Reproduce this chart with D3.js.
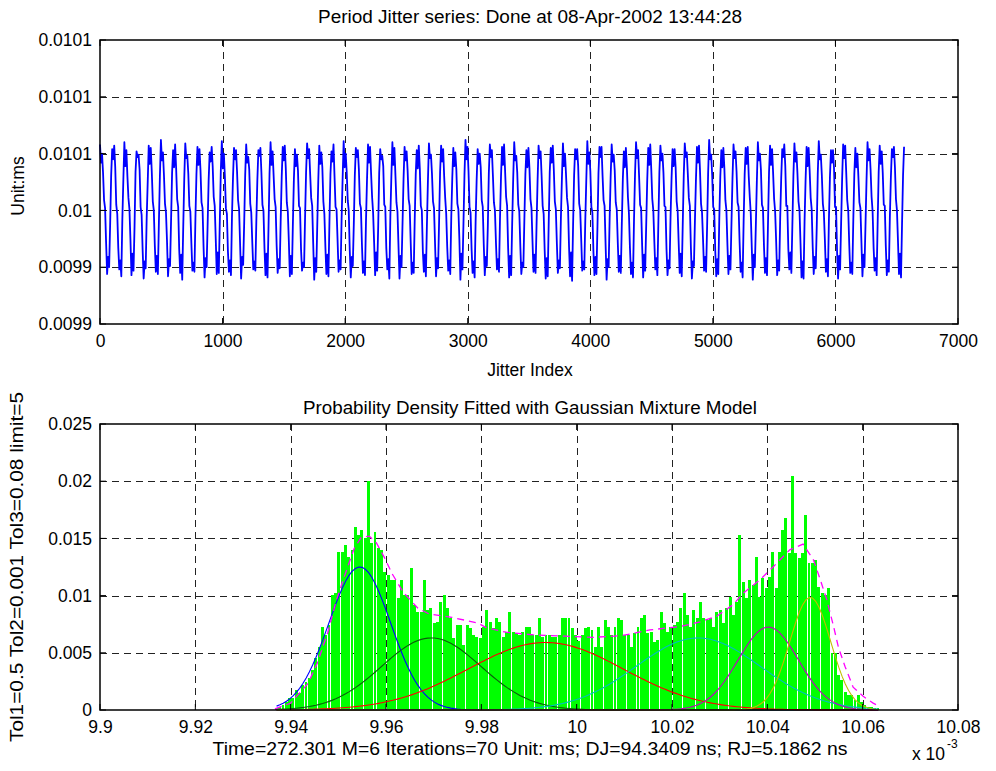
<!DOCTYPE html>
<html><head><meta charset="utf-8">
<script src="https://cdn.jsdelivr.net/npm/d3@7"></script>
<style>
body{margin:0;background:#fff;}
svg text{font-family:"Liberation Sans",Arial,Helvetica,sans-serif;fill:#000;}
</style></head><body>
<svg id="chart" width="996" height="771"></svg>
<script>
// ---------------- DATA ----------------
// Top: period jitter series, deviation from the 10000 ns nominal period (ns), 12 samples per cycle
const periodDevNs = [
58,42,50,33,9,2,-28,-56,-41,-50,-12,31, 54,45,57,38,5,-3,-33,-52,-44,-58,-8,27,
60,39,53,30,11,1,-26,-57,-38,-53,-15,34, 52,47,49,36,3,-4,-35,-60,-45,-51,-6,25,
57,41,55,34,8,0,-31,-54,-40,-56,-11,30, 62,44,51,31,6,-2,-27,-58,-43,-49,-9,33,
53,38,58,37,10,3,-34,-55,-39,-61,-14,28, 59,46,48,32,4,-1,-29,-53,-46,-54,-7,32,
56,40,54,35,7,2,-32,-59,-42,-50,-13,26, 51,43,56,39,12,4,-25,-56,-37,-55,-10,35,
61,37,50,30,2,-3,-36,-54,-44,-57,-5,29, 55,45,53,34,9,1,-30,-60,-41,-48,-12,31,
58,42,47,36,6,-2,-28,-52,-45,-53,-9,27, 53,48,55,33,5,0,-33,-57,-38,-59,-14,33,
60,40,52,31,10,3,-31,-55,-43,-51,-8,30, 56,44,57,37,7,-1,-27,-58,-40,-56,-11,28,
54,39,49,35,4,2,-34,-53,-46,-50,-6,34, 59,46,54,32,11,4,-29,-61,-42,-54,-13,26,
57,41,51,38,8,-3,-32,-56,-39,-58,-10,32, 52,43,58,30,3,1,-26,-54,-44,-52,-7,29,
61,38,50,34,9,0,-35,-59,-41,-49,-12,31, 55,47,53,36,6,2,-30,-55,-45,-57,-9,27,
58,42,56,33,12,-2,-28,-57,-37,-53,-15,33, 54,45,48,39,5,3,-33,-52,-43,-60,-5,30,
60,40,55,31,7,-1,-31,-60,-40,-50,-11,28, 56,44,52,35,10,4,-27,-56,-46,-55,-8,32,
53,37,57,37,4,0,-36,-54,-39,-58,-13,26, 59,46,49,32,8,2,-29,-58,-42,-51,-10,34,
57,43,54,30,11,-3,-32,-53,-44,-56,-6,29, 55,39,51,36,6,1,-26,-61,-38,-52,-12,31,
62,45,56,34,3,-2,-34,-55,-45,-59,-9,27, 54,41,50,38,9,3,-30,-57,-41,-49,-14,33,
58,47,53,31,7,0,-28,-52,-43,-54,-7,30, 56,40,58,35,12,4,-33,-59,-40,-57,-11,28,
60,44,48,33,5,-1,-31,-56,-46,-50,-8,32, 53,38,55,37,10,2,-27,-54,-39,-55,-13,26,
57,46,52,30,4,-3,-35,-60,-42,-58,-10,34, 55,42,57,36,8,1,-29,-55,-44,-51,-6,29,
59,39,50,32,11,3,-32,-58,-37,-62,-12,31, 54,45,54,39,6,0,-26,-53,-45,-52,-9,27,
61,41,51,34,3,-2,-36,-57,-41,-56,-14,33, 56,47,56,31,9,4,-30,-61,-43,-50,-7,30,
58,43,49,35,7,1,-28,-54,-40,-55,-11,28, 52,38,55,37,12,-3,-33,-56,-46,-59,-8,32,
60,46,53,30,5,2,-31,-59,-39,-53,-13,26, 55,40,58,36,10,0,-27,-52,-42,-57,-10,34,
57,44,50,33,4,3,-34,-57,-44,-51,-5,29, 54,39,54,38,8,-1,-29,-55,-38,-58,-12,31,
59,47,51,32,11,4,-32,-60,-45,-49,-9,27, 56,42,57,35,6,-2,-26,-53,-41,-54,-14,33,
62,45,49,31,3,1,-35,-58,-43,-56,-7,30, 53,38,55,37,9,0,-30,-56,-40,-52,-11,28,
58,46,52,34,7,3,-28,-54,-46,-59,-8,32, 55,41,56,30,12,-3,-33,-61,-39,-50,-13,26,
60,44,50,36,5,2,-31,-55,-42,-57,-10,34, 57,40,54,33,10,-1,-27,-57,-44,-53,-6,29,
54,47,58,39,4,4,-34,-52,-37,-55,-12,31, 59,43,51,32,8,0,-29,-59,-45,-60,-9,27,
56,39,55,35,11,1,-32,-56,-41,-51,-14,33, 61,45,49,31,6,-2,-26,-54,-43,-58,-7,30,
53,42,53,37,3,3,-36,-60,-40,-52,-11,28, 58,46,57,34,9,0,-30,-55,-46,-56,-8,32,
55,38,50,30,7,2,-28,-58,-39,-50,-13,26, 60,44,54,36,12,-1,-33,-53,-42,-57,-10,34,
57,41,52,33,5,4,-31,-57,-44,-54,-6,29, 54,47,56,38,10,0,-27,-56,-38,-59,-12,31,
56
];
const jitterLastIndex = 6560;
const topXTicks = [0,1000,2000,3000,4000,5000,6000,7000];
const topXTickLabels = ["0","1000","2000","3000","4000","5000","6000","7000"];
const topYTicks = [0.0099,0.00995,0.01,0.01005,0.0101,0.01015];
const topYTickLabels = ["0.0099","0.0099","0.01","0.0101","0.0101","0.0101"];

// Bottom: histogram density (values x 1e-3), bins evenly spanning histRange (x 1e-3 ms)
const histRange = [9.9367, 10.0636];
const histDensityE3 = [
0.15,0.29,0.44,0.73,1.02,1.02,1.75,1.46,2.18,2.48,2.77,3.49,4.51,5.53,7.28,6.55,7.43,10.05,10.19,13.83,13.83,14.41,13.40,13.98,16.02,15.29,15.73,15.0,20.0,14.56,15.58,14.12,13.98,12.09,11.79,11.36,11.36,9.76,11.36,10.05,10.05,12.38,9.17,
8.59,8.59,11.36,8.74,8.88,7.57,7.72,9.46,10.05,8.88,8.01,6.26,7.43,7.43,5.68,7.43,7.13,6.55,6.41,6.26,7.28,8.74,7.72,7.13,8.01,7.72,6.41,6.84,8.59,6.84,6.70,6.55,6.84,7.28,7.28,6.55,6.55,8.01,6.41,6.55,6.55,6.41,6.41,6.55,8.01,8.01,
8.01,7.13,6.55,6.0,6.55,7.13,7.28,6.99,5.53,7.28,5.53,7.86,7.28,6.55,7.28,8.01,7.86,6.55,6.55,5.5,6.70,7.28,8.01,8.30,6.70,6.84,5.97,6.12,8.59,7.57,6.84,7.28,7.43,7.72,8.88,10.19,8.30,7.28,8.74,8.01,9.46,8.01,7.86,8.01,7.28,8.59,
8.74,7.57,8.88,9.90,8.30,9.46,15.29,11.21,9.76,11.36,10.92,13.40,9.90,11.50,10.63,11.65,13.83,10.63,13.83,15.73,16.74,13.69,20.47,13.69,13.25,13.69,17.04,12.81,12.81,13.10,10.77,10.19,10.05,10.63,
4.95,4.95,3.06,2.6,1.6,1.3,1.3,0.87,1.3,0.73,0.44,0.3,0.3,0.15,0.15
];
// Gaussian mixture components: mean (x1e-3 ms), sigma (x1e-3 ms), peak density (x1e-3)
const compMeans  = [9.9545, 9.9695, 9.9935, 10.0255, 10.0402, 10.049];
const compSigmas = [0.0065, 0.0104, 0.0163, 0.0130, 0.0063, 0.0043];
const compPeaks  = [12.5, 6.3, 5.9, 6.3, 7.25, 9.85];
const compColors = ["#0000ff","#0b5e0b","#ff0000","#00bfbf","#bf00bf","#bfbf00"];
// overall fitted density (dashed magenta), [x, density x1e-3]
const mixtureCurve = [
[9.9367,0.1],[9.9400,0.6],[9.9436,2.3],[9.9456,4.1],[9.9478,6.8],[9.9496,9.6],[9.9512,11.6],[9.9533,14.1],[9.9548,15.1],[9.9565,15.2],
[9.9580,14.6],[9.9597,13.3],[9.9613,11.9],[9.9636,10.3],[9.9667,8.9],[9.9690,8.4],[9.9738,8.1],[9.9793,7.6],[9.9810,7.2],[9.9852,6.8],
[9.9913,6.55],[9.9976,6.45],[10.0034,6.35],[10.0095,6.5],[10.0154,7.0],[10.0217,7.3],[10.0259,7.7],[10.0294,8.2],[10.0328,9.2],[10.0349,10.2],
[10.0385,11.4],[10.0412,12.5],[10.0447,14.0],[10.0475,14.5],[10.0497,13.1],[10.0511,11.4],[10.0525,9.6],[10.0539,7.3],[10.0549,5.5],[10.0563,3.8],
[10.0580,2.0],[10.0601,1.2],[10.0622,0.6],[10.0636,0.3]
];
const botXTicks = [9.9,9.92,9.94,9.96,9.98,10,10.02,10.04,10.06,10.08];
const botXTickLabels = ["9.9","9.92","9.94","9.96","9.98","10","10.02","10.04","10.06","10.08"];
const botYTicks = [0,0.005,0.01,0.015,0.02,0.025];
const botYTickLabels = ["0","0.005","0.01","0.015","0.02","0.025"];

const title1 = "Period Jitter series: Done at 08-Apr-2002 13:44:28";
const title2 = "Probability Density Fitted with Gaussian Mixture Model";
const xLabel1 = "Jitter Index";
const yLabel1 = "Unit:ms";
const xLabel2 = "Time=272.301 M=6 Iterations=70 Unit: ms; DJ=94.3409 ns; RJ=5.1862 ns";
const yLabel2 = "Tol1=0.5 Tol2=0.001 Tol3=0.08 limit=5";

// ---------------- DRAW ----------------
const svg = d3.select("#chart");
const FS = 17.5;
const L = 100, R = 958;
const top1 = 40, bot1 = 324, top2 = 424, bot2 = 710;

const xTop = d3.scaleLinear().domain([0,7000]).range([L,R]);
const yTop = d3.scaleLinear().domain([0.0099,0.01015]).range([bot1,top1]);
const xBot = d3.scaleLinear().domain([9.9,10.08]).range([L,R]);
const yBot = d3.scaleLinear().domain([0,0.025]).range([bot2,top2]);

function grid(xs, ys, xv, yv, y0, y1){
  const gg = svg.append("g").attr("stroke","#222").attr("stroke-width",1).attr("stroke-dasharray","7,5");
  xv.slice(1,-1).forEach(v=>gg.append("line").attr("x1",Math.round(xs(v))+0.5).attr("x2",Math.round(xs(v))+0.5).attr("y1",y0).attr("y2",y1));
  yv.slice(1,-1).forEach(v=>gg.append("line").attr("x1",L).attr("x2",R).attr("y1",Math.round(ys(v))+0.5).attr("y2",Math.round(ys(v))+0.5));
}
function frame(xs, ys, xv, yv, y0, y1){
  const g = svg.append("g").attr("stroke","#000").attr("fill","none");
  g.append("rect").attr("x",L).attr("y",y0).attr("width",R-L).attr("height",y1-y0).attr("stroke-width",1.5);
  xv.forEach(v=>{const x=xs(v);
    g.append("line").attr("x1",x).attr("x2",x).attr("y1",y1).attr("y2",y1-6);
    g.append("line").attr("x1",x).attr("x2",x).attr("y1",y0).attr("y2",y0+6);});
  yv.forEach(v=>{const y=ys(v);
    g.append("line").attr("x1",L).attr("x2",L+6).attr("y1",y).attr("y2",y);
    g.append("line").attr("x1",R).attr("x2",R-6).attr("y1",y).attr("y2",y);});
}
function axes(xs, ys, xv, xl, yv, yl, yBottom){
  const ax = svg.append("g").attr("transform",`translate(0,${yBottom})`)
    .call(d3.axisBottom(xs).tickValues(xv).tickFormat((d,i)=>xl[i]).tickSize(0).tickPadding(11));
  const ay = svg.append("g").attr("transform",`translate(${L},0)`)
    .call(d3.axisLeft(ys).tickValues(yv).tickFormat((d,i)=>yl[i]).tickSize(0).tickPadding(8));
  [ax,ay].forEach(a=>{a.select(".domain").remove();
    a.selectAll("text").attr("font-size",FS).attr("font-family","Liberation Sans, Arial, sans-serif").attr("fill","#000");});
}
function label(x, y, txt, len, rot){
  const t = svg.append("text").attr("text-anchor","middle").attr("font-size",FS).text(txt);
  if (rot) t.attr("transform",`translate(${x},${y}) rotate(-90)`); else t.attr("x",x).attr("y",y);
  if (len) t.attr("textLength",len).attr("lengthAdjust","spacingAndGlyphs");
  return t;
}

// ---- top plot ----
grid(xTop, yTop, topXTicks, topYTicks, top1, bot1);
const step = jitterLastIndex/(periodDevNs.length-1);
const series = periodDevNs.map((v,i)=>({i:i*step, v:(10000+v)*1e-6}));
svg.append("path").datum(series)
  .attr("d", d3.line().x(d=>xTop(d.i)).y(d=>yTop(d.v)))
  .attr("fill","none").attr("stroke","#0000ff").attr("stroke-width",1.8).attr("stroke-linejoin","round");
frame(xTop, yTop, topXTicks, topYTicks, top1, bot1);
axes(xTop, yTop, topXTicks, topXTickLabels, topYTicks, topYTickLabels, bot1);

label(530, 23, title1, 424);
label(530, 376, xLabel1);
label(24, 186, yLabel1, null, true);

// ---- bottom plot ----
grid(xBot, yBot, botXTicks, botYTicks, top2, bot2);
const nb = histDensityE3.length, bw = (histRange[1]-histRange[0])/nb;
const pitch = xBot(histRange[0]+bw)-xBot(histRange[0]);
svg.append("g").selectAll("rect").data(histDensityE3).join("rect")
  .attr("x",(d,i)=>xBot(histRange[0]+i*bw))
  .attr("width",pitch-0.35)
  .attr("y",d=>yBot(d*1e-3))
  .attr("height",d=>bot2-yBot(d*1e-3))
  .attr("fill","#00ff00").attr("shape-rendering","crispEdges");

const centers = histDensityE3.map((d,i)=>histRange[0]+(i+0.5)*bw);
const lineB = d3.line().x(d=>xBot(d[0])).y(d=>yBot(d[1]*1e-3));
compMeans.forEach((m,k)=>{
  const pts = centers.map(x=>[x, compPeaks[k]*Math.exp(-0.5*Math.pow((x-m)/compSigmas[k],2))]);
  svg.append("path").attr("d",lineB(pts)).attr("fill","none").attr("stroke",compColors[k]).attr("stroke-width",1.1);
});
svg.append("path").attr("d",lineB(mixtureCurve)).attr("fill","none").attr("stroke","#ff00ff")
  .attr("stroke-width",1.3).attr("stroke-dasharray","7,5");

frame(xBot, yBot, botXTicks, botYTicks, top2, bot2);
axes(xBot, yBot, botXTicks, botXTickLabels, botYTicks, botYTickLabels, bot2);

label(530, 414, title2, 454);
label(530, 755, xLabel2, 635);
label(23, 567, yLabel2, 350, true);
svg.append("text").attr("x",912).attr("y",760).attr("font-size",FS).text("x 10");
svg.append("text").attr("x",947).attr("y",748).attr("font-size",12).text("-3");
</script>
</body></html>
